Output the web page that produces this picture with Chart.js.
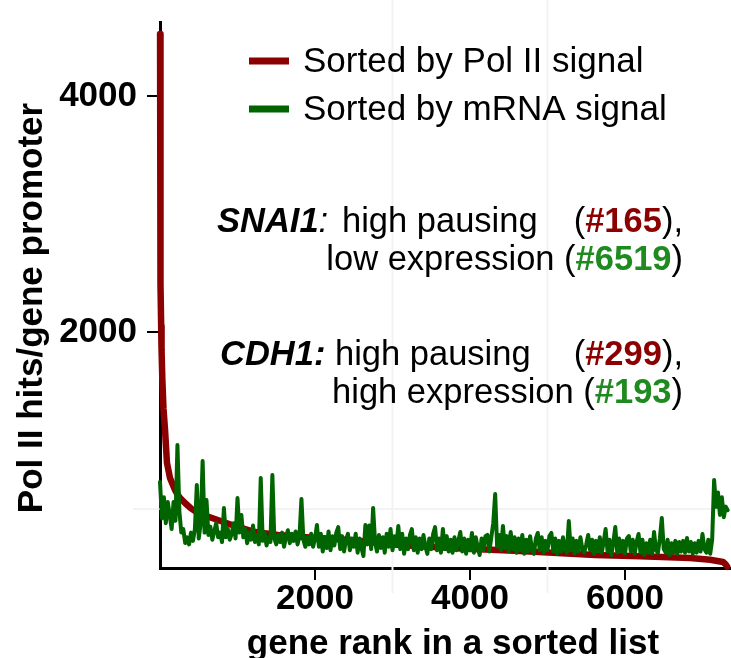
<!DOCTYPE html>
<html><head><meta charset="utf-8">
<script src="https://cdn.jsdelivr.net/npm/chart.js@4.4.1/dist/chart.umd.min.js"></script>
<style>html,body{margin:0;padding:0;background:#fff;} canvas{display:block;}</style>
</head><body>
<canvas id="c" width="731" height="658"></canvas>
<script>
// ---- data ----
const polRanks  = [1, 3, 6, 10, 15, 20, 30, 45, 65, 90, 130, 194, 250, 323, 400, 490, 671, 929, 1226, 1523, 1832, 2450, 3097, 3742, 4645, 5613, 6200, 6839, 7100, 7265, 7300, 7320];
const polValues = [4525, 3600, 2900, 2400, 2050, 1850, 1600, 1350, 1170, 890, 760, 661, 600, 551, 505, 466, 424, 364, 305, 280, 263, 237, 195, 170, 144, 110, 100, 85, 70, 51, 30, 10];

const mrnaRankStep = 25; // one value every 25 ranks, starting at rank 0
const mrnaValues = [
  729,420,600,380,560,450,330,560,400,1042,480,300,330,212,260,200,300,230,330,703,
  250,380,907,300,576,280,350,240,310,380,260,300,220,508,260,330,240,290,380,250,
  593,300,450,260,330,210,300,240,360,220,280,200,763,230,300,190,260,220,788,250,
  200,280,220,300,180,260,320,210,290,230,310,200,270,585,240,180,260,200,290,180,
  250,364,180,290,140,260,170,310,150,270,190,300,347,160,270,140,240,290,150,250,
  180,290,130,250,170,102,364,200,360,160,508,220,140,280,170,260,130,290,180,330,
  150,270,190,356,160,290,120,250,160,280,330,150,260,130,250,160,280,180,120,250,
  160,290,347,150,250,130,330,160,270,140,240,130,260,150,230,305,140,250,120,240,
  150,297,130,260,170,110,250,150,270,280,140,260,380,627,180,280,150,356,170,270,
  140,305,160,260,130,250,150,280,120,240,140,270,160,120,250,297,150,260,130,230,
  150,270,297,140,250,120,230,140,260,160,130,398,150,250,120,230,140,260,160,130,
  200,280,150,240,120,230,140,260,130,220,330,140,240,110,220,347,130,250,140,230,
  120,250,271,140,240,120,220,288,130,240,110,210,130,240,120,305,150,130,250,424,
  160,130,240,110,210,130,230,120,220,140,230,130,254,140,220,120,210,130,230,140,
  288,160,130,240,120,240,746,520,640,450,600,430,520,490
];

const xTickValues = [2000, 4000, 6000];
const yTickValues = [2000, 4000];
const faintXLines = [3000, 5000];
const faintYLines = [500];
const seriesNames = ['Sorted by Pol II signal', 'Sorted by mRNA signal'];
const xTitle = 'gene rank in a sorted list';
const yTitle = 'Pol II hits/gene promoter';

const annotationLines = [
  {gene: [['SNAI1', 'bi'], [':', 'i']], mid: [['high pausing', 'n']], right: [['(', 'n'], ['#165', 'br'], ['),', 'n']]},
  {right: [['low expression (', 'n'], ['#6519', 'bg'], [')', 'n']]},
  {gene: [['CDH1:', 'bi']], mid: [['high pausing', 'n']], right: [['(', 'n'], ['#299', 'br'], ['),', 'n']]},
  {right: [['high expression (', 'n'], ['#193', 'bg'], [')', 'n']]}
];

// ---- styling ----
const FONT = '"Liberation Sans", Arial, Helvetica, sans-serif';
const RED = '#8b0000';
const GREEN = '#006400';
const TEXT_RED = '#8b0000';
const TEXT_GREEN = '#1f8a1f';

const polData = polRanks.map((r, i) => ({x: r, y: polValues[i]}));
const mrnaData = mrnaValues.map((v, i) => ({x: i * mrnaRankStep, y: v}));

function drawParts(ctx, parts, x, y, align, size) {
  const fontFor = s => {
    if (s === 'bi') return 'italic bold ' + size + 'px ' + FONT;
    if (s === 'i') return 'italic ' + size + 'px ' + FONT;
    if (s === 'br' || s === 'bg') return 'bold ' + size + 'px ' + FONT;
    return size + 'px ' + FONT;
  };
  const colorFor = s => s === 'br' ? TEXT_RED : (s === 'bg' ? TEXT_GREEN : '#000');
  const widths = parts.map(p => { ctx.font = fontFor(p[1]); return ctx.measureText(p[0]).width; });
  const total = widths.reduce((a, b) => a + b, 0);
  let cx = align === 'right' ? x - total : x;
  ctx.textAlign = 'left';
  ctx.textBaseline = 'alphabetic';
  parts.forEach((p, i) => {
    ctx.font = fontFor(p[1]);
    ctx.fillStyle = colorFor(p[1]);
    ctx.fillText(p[0], cx, y);
    cx += widths[i];
  });
}

const decorPlugin = {
  id: 'decor',
  beforeDatasetsDraw(chart) {
    const ctx = chart.ctx, xs = chart.scales.x, ys = chart.scales.y;
    ctx.save();
    ctx.strokeStyle = '#f3f3f3';
    ctx.lineWidth = 2;
    faintXLines.forEach(v => {
      const px = xs.getPixelForValue(v);
      ctx.beginPath(); ctx.moveTo(px, 0); ctx.lineTo(px, 593); ctx.stroke();
    });
    faintYLines.forEach(v => {
      const py = ys.getPixelForValue(v);
      ctx.beginPath(); ctx.moveTo(133, py); ctx.lineTo(731, py); ctx.stroke();
    });
    ctx.restore();
  },
  afterDraw(chart) {
    const ctx = chart.ctx;
    ctx.save();
    // legend
    const legendColors = [RED, GREEN];
    const legendY = [61, 109];
    seriesNames.forEach((name, i) => {
      ctx.strokeStyle = legendColors[i];
      ctx.lineWidth = 7;
      ctx.lineCap = 'butt';
      ctx.beginPath(); ctx.moveTo(249, legendY[i]); ctx.lineTo(289, legendY[i]); ctx.stroke();
      ctx.fillStyle = '#000';
      ctx.font = '35px ' + FONT;
      ctx.textAlign = 'left';
      ctx.textBaseline = 'alphabetic';
      ctx.fillText(name, 303, legendY[i] + 11);
    });
    // annotations
    const baselines = [232, 270, 365, 403];
    const geneX = [217, null, 220, null];
    const midX = [342, null, 335, null];
    annotationLines.forEach((ln, i) => {
      if (ln.gene) drawParts(ctx, ln.gene, geneX[i], baselines[i], 'left', 34.5);
      if (ln.mid) drawParts(ctx, ln.mid, midX[i], baselines[i], 'left', 34.5);
      if (ln.right) drawParts(ctx, ln.right, 683, baselines[i], 'right', 34.5);
    });
    // axis titles
    ctx.fillStyle = '#000';
    ctx.font = 'bold 35px ' + FONT;
    ctx.textAlign = 'center';
    ctx.textBaseline = 'alphabetic';
    ctx.fillText(xTitle, 453, 654);
    ctx.translate(42, 308);
    ctx.rotate(-Math.PI / 2);
    ctx.fillText(yTitle, 0, 0);
    ctx.restore();
  }
};

new Chart(document.getElementById('c'), {
  type: 'line',
  data: {
    datasets: [
      {label: seriesNames[1], data: mrnaData, borderColor: GREEN, borderWidth: 4, pointRadius: 0, tension: 0,
       borderJoinStyle: 'round', borderCapStyle: 'round', fill: false, order: 0, clip: false},
      {label: seriesNames[0], data: polData, borderColor: RED, borderWidth: 6.5, pointRadius: 0, tension: 0,
       borderJoinStyle: 'round', borderCapStyle: 'round', fill: false, order: 1, clip: false}
    ]
  },
  options: {
    responsive: false,
    animation: false,
    events: [],
    layout: {padding: {top: 22, left: 0, right: 0, bottom: 0}},
    plugins: {legend: {display: false}, tooltip: {enabled: false}, title: {display: false}},
    scales: {
      x: {
        type: 'linear', min: 0, max: 7368,
        afterBuildTicks: s => { s.ticks = xTickValues.map(v => ({value: v})); },
        afterFit: s => { s.height = 90; s.paddingLeft = 0; s.paddingRight = 0; },
        grid: {display: true, drawOnChartArea: false, drawTicks: true, tickLength: 12, color: '#000', lineWidth: 2},
        border: {display: true, color: '#000', width: 3},
        ticks: {font: {family: FONT, size: 35, weight: 'bold', lineHeight: 1}, color: '#000', padding: 2,
                maxRotation: 0, autoSkip: false, callback: v => String(v)}
      },
      y: {
        type: 'linear', min: 0, max: 4627,
        afterBuildTicks: s => { s.ticks = yTickValues.map(v => ({value: v})); },
        afterFit: s => { s.width = 160; s.paddingTop = 0; s.paddingBottom = 0; },
        grid: {display: true, drawOnChartArea: false, drawTicks: true, tickLength: 13, color: '#000', lineWidth: 2},
        border: {display: true, color: '#000', width: 3},
        ticks: {font: {family: FONT, size: 35, weight: 'bold'}, color: '#000', padding: 10,
                autoSkip: false, callback: v => String(v)}
      }
    }
  },
  plugins: [decorPlugin]
});
</script>
</body></html>
